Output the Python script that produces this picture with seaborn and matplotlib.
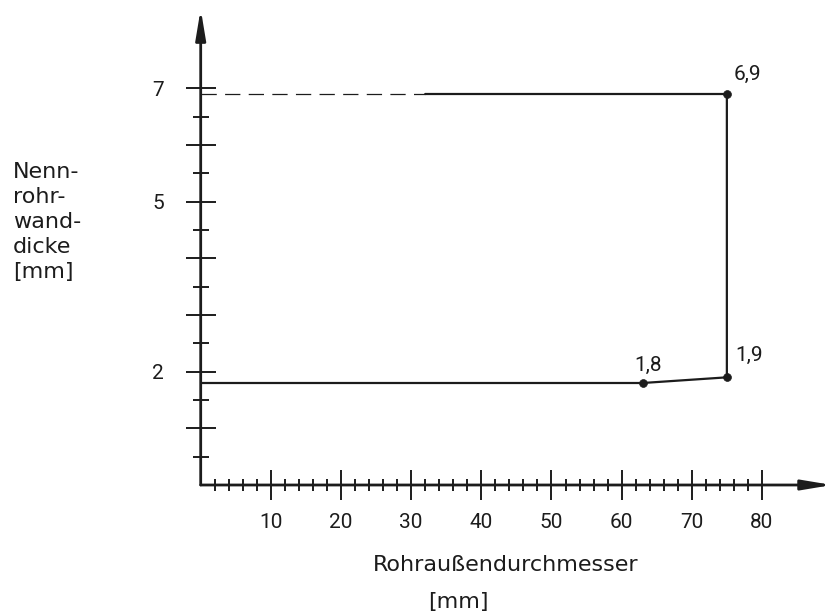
import matplotlib
matplotlib.use('Agg')
import matplotlib.pyplot as plt
from matplotlib.ticker import FixedLocator, FixedFormatter
import pandas as pd
import seaborn as sns

# Kurve: Rohraussendurchmesser [mm] -> Nennrohrwanddicke [mm]
durchmesser = [0, 63, 75, 75, 32]
wanddicke = [1.8, 1.8, 1.9, 6.9, 6.9]
# gestrichelte Verlaengerung der oberen Linie bis zur Achse
strich_x = [0, 32]
strich_y = [6.9, 6.9]
# markierte Punkte
punkt_x = [63, 75, 75]
punkt_y = [1.8, 1.9, 6.9]
punkt_text = ['1,8', '1,9', '6,9']

x_ticks = [10, 20, 30, 40, 50, 60, 70, 80]
x_minor = [2, 4, 6, 8, 12, 14, 16, 18, 22, 24, 26, 28, 32, 34, 36, 38,
           42, 44, 46, 48, 52, 54, 56, 58, 62, 64, 66, 68, 72, 74, 76, 78]
y_ticks = [1, 2, 3, 4, 5, 6, 7]
y_tick_labels = ['', '2', '', '', '5', '', '7']
y_minor = [0.5, 1.5, 2.5, 3.5, 4.5, 5.5, 6.5]

sns.set_style('white')
plt.rcParams['font.family'] = ['Roboto', 'DejaVu Sans']
plt.rcParams['lines.scale_dashes'] = False

ink = '#1c1c1c'
W, H = 834, 614
fig = plt.figure(figsize=(W / 100, H / 100), dpi=100)
# x: 0 -> 200.7 px, 7.02 px per mm ; y: 0 -> 485 px, 56.67 px per mm
ax = fig.add_axes([200.7 / W, (H - 485) / H, 631.4 / W, 476 / H])
ax.set_xlim(0, 90)
ax.set_ylim(0, 8.4)
for s in ax.spines.values():
    s.set_visible(False)

df = pd.DataFrame({'d': durchmesser, 'w': wanddicke})
sns.lineplot(data=df, x='d', y='w', sort=False, estimator=None,
             color=ink, lw=1.6, ax=ax)
sns.lineplot(x=strich_x, y=strich_y, sort=False, estimator=None,
             color=ink, lw=0.9, ax=ax, linestyle=(0, (11, 6)))
sns.scatterplot(x=punkt_x, y=punkt_y, color=ink, s=32, edgecolor=ink,
                linewidth=0.5, zorder=5, ax=ax)
ax.set_xlabel('')
ax.set_ylabel('')

offsets = [(4, 9, 'center'), (6, 12, 'left'), (5, 10.5, 'left')]
for px, py, t, (dx, dy, ha) in zip(punkt_x, punkt_y, punkt_text, offsets):
    ax.annotate(t, (px, py), xytext=(dx, dy), textcoords='offset points',
                ha=ha, va='baseline', fontsize=15, color=ink)

# Achsen mit Pfeilspitzen
arrow = dict(arrowstyle='-|>,head_length=1.8,head_width=0.3', color=ink,
             lw=2, shrinkA=0, shrinkB=0, mutation_scale=10)
ax.annotate('', xy=(90, 0), xytext=(0, 0), arrowprops=arrow,
            annotation_clip=False)
ax.annotate('', xy=(0, 8.4), xytext=(0, 0), arrowprops=arrow,
            annotation_clip=False)

ax.xaxis.set_major_locator(FixedLocator(x_ticks))
ax.xaxis.set_minor_locator(FixedLocator(x_minor))
ax.yaxis.set_major_locator(FixedLocator(y_ticks))
ax.yaxis.set_major_formatter(FixedFormatter(y_tick_labels))
ax.yaxis.set_minor_locator(FixedLocator(y_minor))
ax.tick_params(axis='both', which='both', direction='inout', color=ink,
               width=1.4, bottom=True, left=True, labelcolor=ink)
ax.tick_params(axis='x', which='major', length=21, pad=10, labelsize=15)
ax.tick_params(axis='x', which='minor', length=9)
ax.tick_params(axis='y', which='major', length=21, pad=16, labelsize=15)
ax.tick_params(axis='y', which='minor', length=11)

fig.text(13 / W, 1 - 222 / H, 'Nenn-\nrohr-\nwand-\ndicke\n[mm]',
         ha='left', va='center', fontsize=16, linespacing=1.3,
         color=ink, family=['DejaVu Sans'])
fig.text(373 / W, 1 - 565 / H, 'Rohraußendurchmesser', ha='left',
         va='center', fontsize=16, color=ink, family=['DejaVu Sans'])
fig.text(428 / W, 1 - 602 / H, '[mm]', ha='left', va='center',
         fontsize=16, color=ink, family=['DejaVu Sans'])

fig.savefig('out.png', dpi=100)
